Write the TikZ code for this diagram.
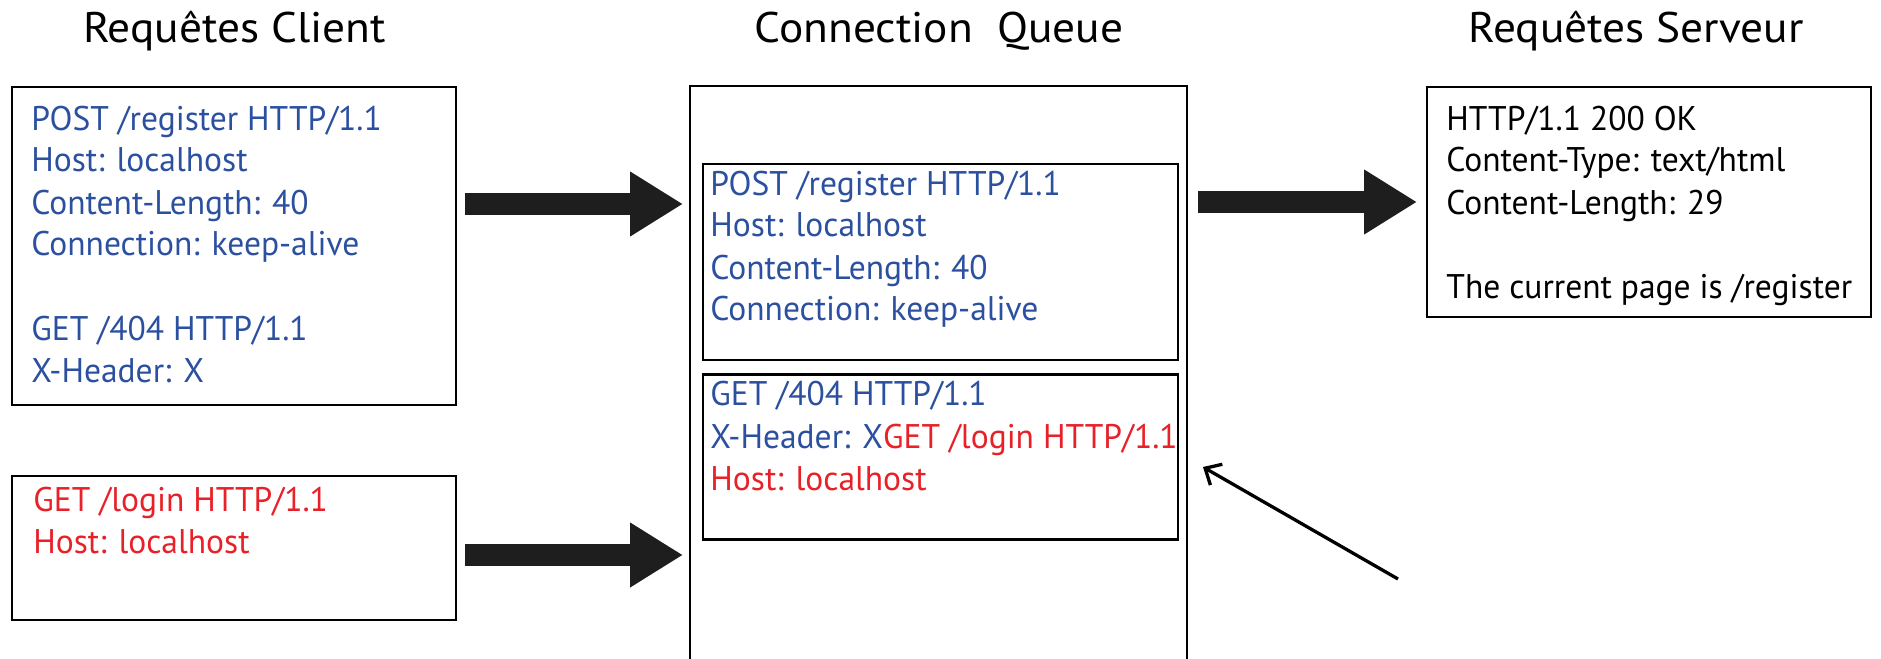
\documentclass[tikz,border=0pt]{standalone}
\usepackage{fontspec}
\setmainfont{PT Sans}
\newfontfamily\bodyfont[FakeStretch=0.98]{PT Sans}
\newfontfamily\titlefont[FakeStretch=1.06]{PT Sans}
\usetikzlibrary{arrows.meta}
\definecolor{reqblue}{RGB}{44,80,160}
\definecolor{reqred}{RGB}{232,32,40}
\definecolor{arrowdark}{RGB}{30,30,30}
\tikzset{
  box/.style={draw=black, line width=1.1pt, rectangle, inner sep=0pt, anchor=north west},
  line/.style={anchor=base west, inner sep=0pt, font=\bodyfont\fontsize{17.1}{20}\selectfont},
  title/.style={anchor=base, inner sep=0pt, font=\titlefont\fontsize{21.4}{24}\selectfont},
  bigarrow/.style={draw=arrowdark, line width=11pt, -{Triangle[length=26.4pt, width=30.5pt, fill=arrowdark]}},
  thinarrow/.style={draw=black, line width=1.65pt, -{Straight Barb[length=6.5pt, width=12pt]}},
}
\begin{document}
\begin{tikzpicture}[x=0.5pt, y=-0.5pt]
\useasboundingbox (0,0) rectangle (1881,659);
% titles
\node[title] (t1) at (234.5,42) {Requêtes Client};
\node[title] (t2) at (939,42) {Connection\ \ Queue};
\node[title] (t3) at (1636,42) {Requêtes Serveur};
% left boxes
\node[box, minimum width=222pt, minimum height=159pt] (c1) at (11,86) {};
\node[box, minimum width=222pt, minimum height=72pt] (c2) at (11,475) {};
\node[line, text=reqblue] (c1a) at (31,130) {POST /register HTTP/1.1};
\node[line, text=reqblue] (c1b) at (31,171.7) {Host: localhost};
\node[line, text=reqblue] (c1c) at (31,214) {Content-Length: 40};
\node[line, text=reqblue] (c1d) at (31,255.7) {Connection: keep-alive};
\node[line, text=reqblue] (c1e) at (31,340) {GET /404 HTTP/1.1};
\node[line, text=reqblue] (c1f) at (31,382.3) {X-Header: X};
\node[line, text=reqred] (c2a) at (33,511.7) {GET /login HTTP/1.1};
\node[line, text=reqred] (c2b) at (33,553.3) {Host: localhost};
% queue
\coordinate (qbl) at (690,670);
\coordinate (qtl) at (690,86);
\coordinate (qtr) at (1187,86);
\coordinate (qbr) at (1187,670);
\draw[line width=1.1pt] (qbl) -- (qtl) -- (qtr) -- (qbr);
\node[box, minimum width=237.5pt, minimum height=97.8pt] (q1) at (702,163) {};
\node[box, minimum width=237.5pt, minimum height=82.5pt] (q2) at (702,373.3) {};
\node[line, text=reqblue] (q1a) at (710,195) {POST /register HTTP/1.1};
\node[line, text=reqblue] (q1b) at (710,236.7) {Host: localhost};
\node[line, text=reqblue] (q1c) at (710,279.3) {Content-Length: 40};
\node[line, text=reqblue] (q1d) at (710,320.7) {Connection: keep-alive};
\node[line, text=reqblue] (q2a) at (710,405) {GET /404 HTTP/1.1};
\node[line] (q2b) at (710,448.3) {\textcolor{reqblue}{X-Header: X}\textcolor{reqred}{GET /login HTTP/1.1}};
\node[line, text=reqred] (q2c) at (710,490) {Host: localhost};
% server box
\node[box, minimum width=222pt, minimum height=115pt] (s1) at (1426,85.7) {};
\node[line] (s1a) at (1446,130) {HTTP/1.1 200 OK};
\node[line] (s1b) at (1446,171.7) {Content-Type: text/html};
\node[line] (s1c) at (1446,214) {Content-Length: 29};
\node[line] (s1d) at (1446,298.3) {The current page is /register};
% arrows
\coordinate (a1s) at (465,204);
\coordinate (a1e) at (683,204);
\coordinate (a2s) at (465,555);
\coordinate (a2e) at (683,555);
\coordinate (a3s) at (1198,202);
\coordinate (a3e) at (1417,202);
\coordinate (p0) at (1398,579);
\coordinate (p1) at (1203,467);
\draw[bigarrow] (a1s) -- (a1e);
\draw[bigarrow] (a2s) -- (a2e);
\draw[bigarrow] (a3s) -- (a3e);
\draw[thinarrow] (p0) -- (p1);
\end{tikzpicture}
\end{document}
